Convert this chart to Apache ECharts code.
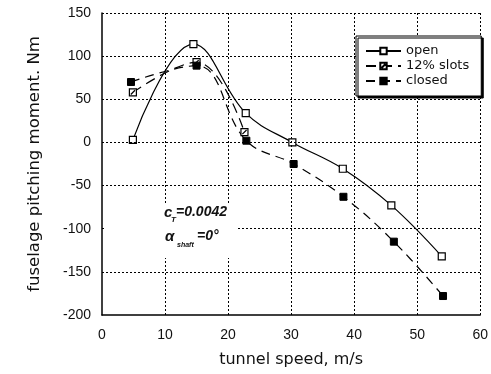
<!DOCTYPE html>
<html>
<head>
<meta charset="utf-8">
<script src="https://cdn.jsdelivr.net/npm/echarts@6/dist/echarts.min.js"></script>
<style>
  html, body { margin: 0; padding: 0; background: #fff; }
  #chart { width: 491px; height: 374px; }
</style>
</head>
<body>
<div id="chart"></div>
<script>
// values: [tunnel speed m/s, moment Nm]
const openPts = [[4.9, 3], [14.5, 114], [22.8, 34], [30.2, 0], [38.2, -30.5], [45.9, -73], [53.9, -132]]
const slotsPts = [[4.9, 58], [15, 93], [22.6, 12]]
const closedPts = [[4.6, 70], [15, 89], [22.9, 2], [30.4, -25], [38.3, -63], [46.3, -115], [54.1, -178]]
const seriesNames = ['open', '12% slots', 'closed']

const xMin = 0
const xMax = 60
const xStep = 10
const yMin = -200
const yMax = 150
const yStep = 50
// dotted grid positions (the solid axes sit at x=0 and y=-200)
const xGrid = [10, 20, 30, 40, 50, 60]
const yGrid = [-150, -100, -50, 0, 50, 100, 150]

const chart = echarts.init(document.getElementById('chart'), null, { renderer: 'canvas' })

const gridDots = { color: '#000', width: 1, type: [2, 2] }
const slotSymbol = 'path://M0,0H10V10H0Z M2,8L8,2'

const baseSeries = {
  type: 'line',
  smooth: 0.4,
  symbolSize: 7,
  z: 2,
}

const gridMarks = {
  silent: true,
  symbol: ['none', 'none'],
  label: { show: false },
  lineStyle: gridDots,
  emphasis: { disabled: true },
  data: [...xGrid.map((v) => ({ xAxis: v })), ...yGrid.map((v) => ({ yAxis: v }))],
}

const option = {
  backgroundColor: '#fff',
  animation: false,
  grid: { left: 102, right: 6, top: 13, bottom: 59 },
  xAxis: {
    type: 'value',
    min: xMin,
    max: xMax,
    interval: xStep,
    name: 'tunnel speed, m/s',
    nameLocation: 'middle',
    nameGap: 37,
    nameTextStyle: { fontFamily: 'DejaVu Sans', fontSize: 16, color: '#111' },
    axisLine: { onZero: false, lineStyle: { color: '#000', width: 1.5 } },
    axisTick: { show: false },
    axisLabel: { margin: 13, fontFamily: 'Liberation Sans', fontSize: 14, color: '#111' },
    splitLine: { show: false },
  },
  yAxis: {
    type: 'value',
    min: yMin,
    max: yMax,
    interval: yStep,
    name: 'fuselage pitching moment. Nm',
    nameLocation: 'middle',
    nameGap: 59,
    nameTextStyle: { fontFamily: 'DejaVu Sans', fontSize: 16.5, color: '#111' },
    axisLine: { show: true, onZero: false, lineStyle: { color: '#000', width: 1.5 } },
    axisTick: { show: false },
    axisLabel: { margin: 11, fontFamily: 'Liberation Sans', fontSize: 14, color: '#111' },
    splitLine: { show: false },
  },
  legend: {
    orient: 'vertical',
    left: 356,
    top: 36,
    z: 10,
    padding: [8, 12, 8, 9],
    itemWidth: 35,
    itemHeight: 8,
    itemGap: 1,
    backgroundColor: '#fff',
    borderColor: '#000',
    borderWidth: 1,
    borderRadius: 0,
    shadowColor: '#000',
    shadowBlur: 0,
    shadowOffsetX: 2,
    shadowOffsetY: 2,
    textStyle: { fontFamily: 'DejaVu Sans', fontSize: 13, color: '#111', lineHeight: 14 },
    data: seriesNames,
  },
  graphic: {
    elements: [
      // white box behind the annotation, as in the original figure
      { type: 'rect', x: 104, y: 203, shape: { x: 0, y: 0, width: 133, height: 55 }, style: { fill: '#fff' }, z: 50 },
      { type: 'text', x: 164, y: 205, z: 51,
        style: { text: 'c', font: 'italic bold 15px "Liberation Sans"', fill: '#111' } },
      { type: 'text', x: 171, y: 216, z: 51,
        style: { text: 'T', font: 'italic bold 8px "Liberation Sans"', fill: '#111' } },
      { type: 'text', x: 176, y: 205, z: 51,
        style: { text: '=0.0042', font: 'italic bold 14px "Liberation Sans"', fill: '#111' } },
      { type: 'text', x: 165, y: 229, z: 51,
        style: { text: 'α', font: 'italic bold 15px "Liberation Sans"', fill: '#111' } },
      { type: 'text', x: 177, y: 242, z: 51,
        style: { text: 'shaft', font: 'italic bold 7px "Liberation Sans"', fill: '#111' } },
      { type: 'text', x: 197, y: 229, z: 51,
        style: { text: '=0°', font: 'italic bold 14px "Liberation Sans"', fill: '#111' } },
    ],
  },
  series: [
    {
      ...baseSeries,
      name: seriesNames[0],
      data: openPts,
      symbol: 'rect',
      lineStyle: { color: '#000', width: 1.2, type: 'solid' },
      itemStyle: { color: '#fff', borderColor: '#000', borderWidth: 1.2 },
      markLine: gridMarks,
    },
    {
      ...baseSeries,
      name: seriesNames[1],
      data: slotsPts,
      symbol: slotSymbol,
      lineStyle: { color: '#000', width: 1.2, type: [10, 6] },
      itemStyle: { color: '#fff', borderColor: '#000', borderWidth: 1.2 },
    },
    {
      ...baseSeries,
      name: seriesNames[2],
      data: closedPts,
      symbol: 'rect',
      lineStyle: { color: '#000', width: 1.2, type: [9, 6] },
      itemStyle: { color: '#000', borderColor: '#000', borderWidth: 1 },
    },
  ],
}

chart.setOption(option)
</script>
</body>
</html>
